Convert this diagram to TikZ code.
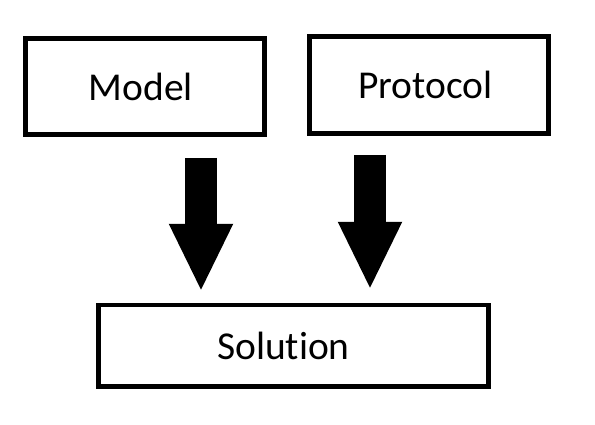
\documentclass[tikz,border=0pt]{standalone}
\usepackage{fontspec}
\setmainfont{Carlito}[Ligatures=NoCommon]
\usepackage{tikz}
\usetikzlibrary{arrows.meta}
\newcommand{\nudge}[2]{\hspace*{-#1}#2\hspace*{#1}}
\tikzstyle{box} = [rectangle, line width=4.5pt, draw=black, text centered, font=\fontsize{39.5}{46}\selectfont]
\tikzstyle{bigarrow} = [line width=32pt, -{Triangle[length=68pt, width=59pt]}]

\begin{document}
\begin{tikzpicture}[x=1pt, y=-1pt]
          \useasboundingbox (0,0) rectangle (595,424);
          \node (model) [box, minimum width=239pt, minimum height=96pt] at (145,86.5) {\nudge{4pt}{Model}};
          \node (protocol) [box, minimum width=239pt, minimum height=97pt] at (429,85) {\nudge{3.5pt}{Protocol}};
          \node (solution) [box, minimum width=390pt, minimum height=81.5pt] at (293.5,345.75) {\nudge{10pt}{Solution}};
          \coordinate (lx) at (201,0);
          \coordinate (rx) at (370,0);
          \draw [bigarrow, shorten <=21pt, shorten >=11pt] (model.south -| lx) -- (solution.north -| lx);
          \draw [bigarrow, shorten <=19pt, shorten >=13pt] (protocol.south -| rx) -- (solution.north -| rx);
        \end{tikzpicture}
\end{document}
